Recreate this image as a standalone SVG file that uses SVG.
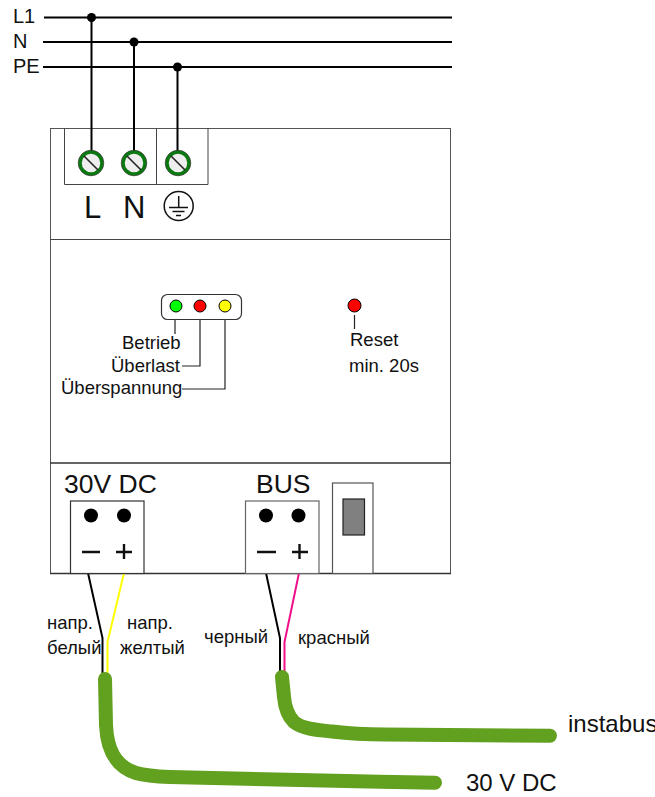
<svg xmlns="http://www.w3.org/2000/svg" width="655" height="797" viewBox="0 0 655 797">
<style>
text{font-family:"Liberation Sans",Arial,sans-serif;fill:#111}
.f18{font-size:18.500px}.f20{font-size:20px}.f24{font-size:24px}.f26{font-size:26.500px}.f31{font-size:31px}
.w{fill:none;stroke:#000;stroke-width:2}
.b{fill:none;stroke:#444;stroke-width:1}
.h{fill:none;stroke:#333;stroke-width:1.500}
.g{fill:none;stroke:#62a020;stroke-width:14;stroke-linecap:round;stroke-linejoin:round}
.led{stroke:#000;stroke-width:1}
.dot{fill:#000}
</style>
<defs>
<g id="screw"><circle r="11" fill="#eee" stroke="#0a7a10" stroke-width="3.500"/><circle r="12.800" fill="none" stroke="#333" stroke-width=".7"/><path d="M-7-7L7 7" stroke="#222" stroke-width="1.600"/></g>
</defs>
<g id="housing">
<rect x="50.500" y="128.500" width="400" height="445" fill="#fff" stroke="#555"/>
<path d="M50 239.500H451" class="b"/>
<path d="M50 463H451M50 573.500H451" class="h"/>
</g>
<g id="terminal-top">
<path d="M64.500 128V184.500H208V128M156.500 128V184.500" class="b"/>
</g>
<g id="connectors">
<path d="M44 17.500H452M43 42H452M43 67H452" class="w"/>
<path d="M91.500 17V152M134 42V152M177.500 67V152" class="w"/>
<circle class="dot" cx="91.500" cy="17.500" r="4.500"/><circle class="dot" cx="134" cy="42" r="4.500"/><circle class="dot" cx="177.500" cy="67" r="4.500"/>
<path d="M175 320V334M200 320V366H182M225 320V389H182" fill="none" stroke="#222" stroke-width="1.200"/>
<path d="M354.500 315V329" fill="none" stroke="#222" stroke-width="1.200"/>
<path d="M88 573L102.500 638V673" fill="none" stroke="#000" stroke-width="2"/>
<path d="M124 573L107.500 642V673" fill="none" stroke="#ff0" stroke-width="2"/>
<path d="M266 573L280 638V672" fill="none" stroke="#000" stroke-width="2"/>
<path d="M299 573L284.500 642V672" fill="none" stroke="#f0108a" stroke-width="2"/>
<path class="g" d="M105 679L106 725C107 748 114 766 136 773C146 776 156 776.500 170 777L380 781.700L435 782.700"/>
<path class="g" d="M282 677L284 697C285 708 288 716 294 722C303 729 316 730 332 731.500C348 733.500 364 734.500 385 734.500L550 735.700"/>
</g>
<g id="screw-L"><use href="#screw" x="91" y="163"/></g>
<g id="screw-N"><use href="#screw" x="134" y="163"/></g>
<g id="screw-PE"><use href="#screw" x="178" y="163"/></g>
<g id="earth">
<circle cx="178.700" cy="206" r="14.500" fill="#fff" stroke="#111" stroke-width="1.500"/>
<path d="M178.700 196V207M169 207.500H188M172.500 211.500H184.500M176 215.500H181" stroke="#111" stroke-width="1.500" fill="none"/>
</g>
<g id="leds">
<rect x="161.500" y="294.500" width="80" height="25" rx="6" fill="#fff" stroke="#333" stroke-width="1.200"/>
<circle class="led" cx="176" cy="306" r="6" fill="#0f0"/>
<circle class="led" cx="200" cy="306" r="6" fill="#f00"/>
<circle class="led" cx="225" cy="306" r="6" fill="#ff0"/>
</g>
<g id="reset"><circle class="led" cx="354.500" cy="305.500" r="6.500" fill="#f00"/></g>
<g id="conn-30v">
<rect x="70.500" y="501" width="73.500" height="72.500" fill="#fff" stroke="#333" stroke-width="1.200"/>
<circle class="dot" cx="91" cy="515.500" r="7"/><circle class="dot" cx="124" cy="515.500" r="7"/>
<path d="M82 552H100M116 552H132M124 544V559" stroke="#111" stroke-width="2.400" fill="none"/>
</g>
<g id="conn-bus">
<rect x="245.500" y="501" width="73.500" height="72.500" fill="#fff" stroke="#666" stroke-width="1.200"/>
<circle class="dot" cx="266" cy="515.500" r="7"/><circle class="dot" cx="298.500" cy="515.500" r="7"/>
<path d="M257 552H276M292 552H308M299.500 544V559" stroke="#111" stroke-width="2.400" fill="none"/>
</g>
<g id="switch">
<rect x="332.500" y="483" width="40.500" height="90.500" fill="#fff" stroke="#555" stroke-width="1.200"/>
<rect x="343" y="499" width="21.500" height="36" fill="#808080" stroke="#222" stroke-width="1.200"/>
</g>
<g id="labels">
<text x="13" y="23" class="f20">L1</text>
<text x="13" y="48" class="f20">N</text>
<text x="13" y="73" class="f20">PE</text>
<text x="84" y="218" class="f31">L</text>
<text x="123" y="218" class="f31">N</text>
<text x="122" y="349" class="f18">Betrieb</text>
<text x="111" y="372" class="f18">Überlast</text>
<text x="61" y="394" class="f18">Überspannung</text>
<text x="350" y="346" class="f18">Reset</text>
<text x="349" y="372" class="f18">min. 20s</text>
<text x="64" y="493" class="f26">30V DC</text>
<text x="256" y="493" class="f26">BUS</text>
<text x="47" y="629" class="f18">напр.</text>
<text x="127" y="629" class="f18">напр.</text>
<text x="47" y="654" class="f18">белый</text>
<text x="120" y="654" class="f18">желтый</text>
<text x="204" y="643" class="f18">черный</text>
<text x="298" y="644" class="f18">красный</text>
<text x="568" y="732" class="f24">instabus</text>
<text x="466" y="791" class="f24">30 V DC</text>
</g>
</svg>
